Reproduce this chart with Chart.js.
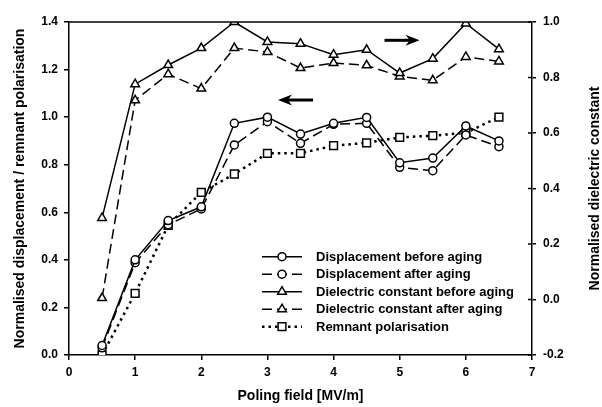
<!DOCTYPE html>
<html>
<head>
<meta charset="utf-8">
<script src="https://cdn.jsdelivr.net/npm/chart.js@4"></script>
<style>
  body { margin: 0; background: #fff; }
  canvas { display: block; }
</style>
</head>
<body>
<canvas id="polingChart" width="602" height="407"></canvas>
<script>
// poling field steps [MV/m]
const fields = [0.5, 1, 1.5, 2, 2.5, 3, 3.5, 4, 4.5, 5, 5.5, 6, 6.5];

// left axis series
const dispBefore = [0.04, 0.40, 0.565, 0.623, 0.974, 1.0, 0.929, 0.974, 0.999, 0.808, 0.828, 0.963, 0.90];
const dispAfter = [0.03, 0.388, 0.548, 0.614, 0.883, 0.981, 0.89, 0.97, 0.974, 0.789, 0.775, 0.925, 0.876];
const remnant = [0.0, 0.259, 0.545, 0.684, 0.761, 0.848, 0.848, 0.88, 0.892, 0.915, 0.922, 0.934, 1.0];

// right axis series
const dielBefore = [0.294, 0.776, 0.845, 0.906, 1.0, 0.928, 0.922, 0.882, 0.9, 0.816, 0.868, 0.995, 0.902];
const dielAfter = [0.005, 0.718, 0.812, 0.76, 0.906, 0.892, 0.834, 0.852, 0.844, 0.804, 0.79, 0.874, 0.858];

const seriesLabels = [
    'Displacement before aging',
    'Displacement after aging',
    'Dielectric constant before aging',
    'Dielectric constant after aging',
    'Remnant polarisation'
];

const rightTitle = 'Normalised dielectric constant';

const FONT = "'Liberation Sans', Arial, sans-serif";

function toPoints(values) {
    return fields.map((f, i) => ({ x: f, y: values[i] }));
}

function fmtTick(v) {
    return Math.abs(v) < 1e-9 ? '0.0' : v.toFixed(1);
}

function makeSeries(label, values, axis, style, dash, width, radius) {
    return {
        label: label,
        data: toPoints(values),
        yAxisID: axis,
        borderColor: '#000',
        borderWidth: width,
        borderDash: dash,
        tension: 0,
        fill: false,
        pointStyle: style,
        pointRadius: radius,
        pointBorderWidth: 1.5,
        pointBorderColor: '#000',
        pointBackgroundColor: '#fff'
    };
}

function drawArrow(ctx, xTail, xHead, y) {
    const dir = Math.sign(xHead - xTail);
    const headLen = 14;
    ctx.lineWidth = 3;
    ctx.beginPath();
    ctx.moveTo(xTail, y);
    ctx.lineTo(xHead - dir * headLen * 0.6, y);
    ctx.stroke();
    ctx.beginPath();
    ctx.moveTo(xHead, y);
    ctx.lineTo(xHead - dir * headLen, y - 5.5);
    ctx.lineTo(xHead - dir * headLen * 0.7, y);
    ctx.lineTo(xHead - dir * headLen, y + 5.5);
    ctx.closePath();
    ctx.fill();
}

// frame top, inner right ticks, right title, direction arrows and the legend
const decorations = {
    id: 'decorations',
    afterDraw(chart) {
        const { ctx, chartArea: a, scales } = chart;
        ctx.save();
        ctx.strokeStyle = '#000';
        ctx.fillStyle = '#000';
        ctx.setLineDash([]);

        ctx.lineWidth = 1.5;
        ctx.beginPath();
        ctx.moveTo(a.left, a.top);
        ctx.lineTo(a.right, a.top);
        ctx.stroke();

        scales.y1.ticks.forEach(t => {
            const y = scales.y1.getPixelForValue(t.value);
            ctx.beginPath();
            ctx.moveTo(a.right - 4, y);
            ctx.lineTo(a.right, y);
            ctx.stroke();
        });

        // right axis title reads bottom to top
        ctx.save();
        ctx.translate(scales.y1.right - 7, (a.top + a.bottom) / 2);
        ctx.rotate(-Math.PI / 2);
        ctx.font = 'bold 14px ' + FONT;
        ctx.textAlign = 'center';
        ctx.textBaseline = 'middle';
        ctx.fillText(rightTitle, 0, 0);
        ctx.restore();

        // arrow towards the left axis, arrow towards the right axis
        drawArrow(ctx, scales.x.getPixelForValue(3.69), scales.x.getPixelForValue(3.16), scales.y.getPixelForValue(1.072));
        drawArrow(ctx, scales.x.getPixelForValue(4.77), scales.x.getPixelForValue(5.30), scales.y1.getPixelForValue(0.934));

        // legend
        const lx = a.left + 193;
        const ly = a.top + 234.7;
        const rowH = 17.5;
        ctx.font = 'bold 13px ' + FONT;
        ctx.textBaseline = 'middle';
        ctx.textAlign = 'left';
        chart.data.datasets.forEach((ds, i) => {
            const y = ly + i * rowH;
            ctx.strokeStyle = '#000';
            ctx.lineWidth = ds.borderWidth;
            ctx.setLineDash(ds.borderDash);
            ctx.beginPath();
            ctx.moveTo(lx, y);
            ctx.lineTo(lx + 40, y);
            ctx.stroke();
            ctx.setLineDash([]);
            ctx.lineWidth = ds.pointBorderWidth;
            ctx.fillStyle = '#fff';
            Chart.helpers.drawPoint(ctx, {
                pointStyle: ds.pointStyle,
                radius: ds.pointRadius,
                rotation: 0,
                borderWidth: ds.pointBorderWidth
            }, lx + 20, y);
            ctx.fillStyle = '#000';
            ctx.fillText(ds.label, lx + 54, y + 0.5);
        });
        ctx.restore();
    }
};

const tickFont = { family: FONT, size: 12, weight: 'bold' };
const titleFont = { family: FONT, size: 14, weight: 'bold' };

new Chart(document.getElementById('polingChart'), {
    type: 'line',
    data: {
        datasets: [
            makeSeries(seriesLabels[0], dispBefore, 'y', 'circle', [], 1.5, 4),
            makeSeries(seriesLabels[1], dispAfter, 'y', 'circle', [10, 5], 1.5, 4),
            makeSeries(seriesLabels[2], dielBefore, 'y1', 'triangle', [], 1.5, 5),
            makeSeries(seriesLabels[3], dielAfter, 'y1', 'triangle', [10, 5], 1.5, 5),
            makeSeries(seriesLabels[4], remnant, 'y', 'rect', [2.5, 4], 2.5, 5.5)
        ]
    },
    options: {
        responsive: false,
        animation: false,
        layout: { padding: { top: 22, left: 0, right: 0, bottom: 0 } },
        plugins: {
            legend: { display: false },
            tooltip: { enabled: false }
        },
        scales: {
            x: {
                type: 'linear',
                min: 0,
                max: 7,
                afterFit: s => { s.height = 52; },
                ticks: { stepSize: 1, color: '#000', font: tickFont, padding: 5, maxRotation: 0 },
                grid: { drawOnChartArea: false, drawTicks: true, tickLength: 5, color: '#000', lineWidth: 1.5 },
                border: { display: true, color: '#000', width: 1.5 },
                title: { display: true, text: 'Poling field [MV/m]', color: '#000', font: titleFont, padding: { top: 0, bottom: 2 } }
            },
            y: {
                position: 'left',
                min: 0,
                max: 1.4,
                afterFit: s => { s.width = 69; },
                ticks: { stepSize: 0.2, color: '#000', font: tickFont, padding: 6, callback: fmtTick },
                grid: { drawOnChartArea: false, drawTicks: true, tickLength: 5, color: '#000', lineWidth: 1.5 },
                border: { display: true, color: '#000', width: 1.5 },
                title: { display: true, text: 'Normalised displacement / remnant polarisation', color: '#000', font: titleFont, padding: { top: 12, bottom: 0 } }
            },
            y1: {
                position: 'right',
                min: -0.2,
                max: 1.0,
                afterFit: s => { s.width = 70; },
                ticks: { stepSize: 0.2, color: '#000', font: tickFont, padding: 7, callback: fmtTick },
                grid: { drawOnChartArea: false, drawTicks: true, tickLength: 4, color: '#000', lineWidth: 1.5 },
                border: { display: true, color: '#000', width: 1.5 },
                title: { display: false }
            }
        }
    },
    plugins: [decorations]
});
</script>
</body>
</html>
